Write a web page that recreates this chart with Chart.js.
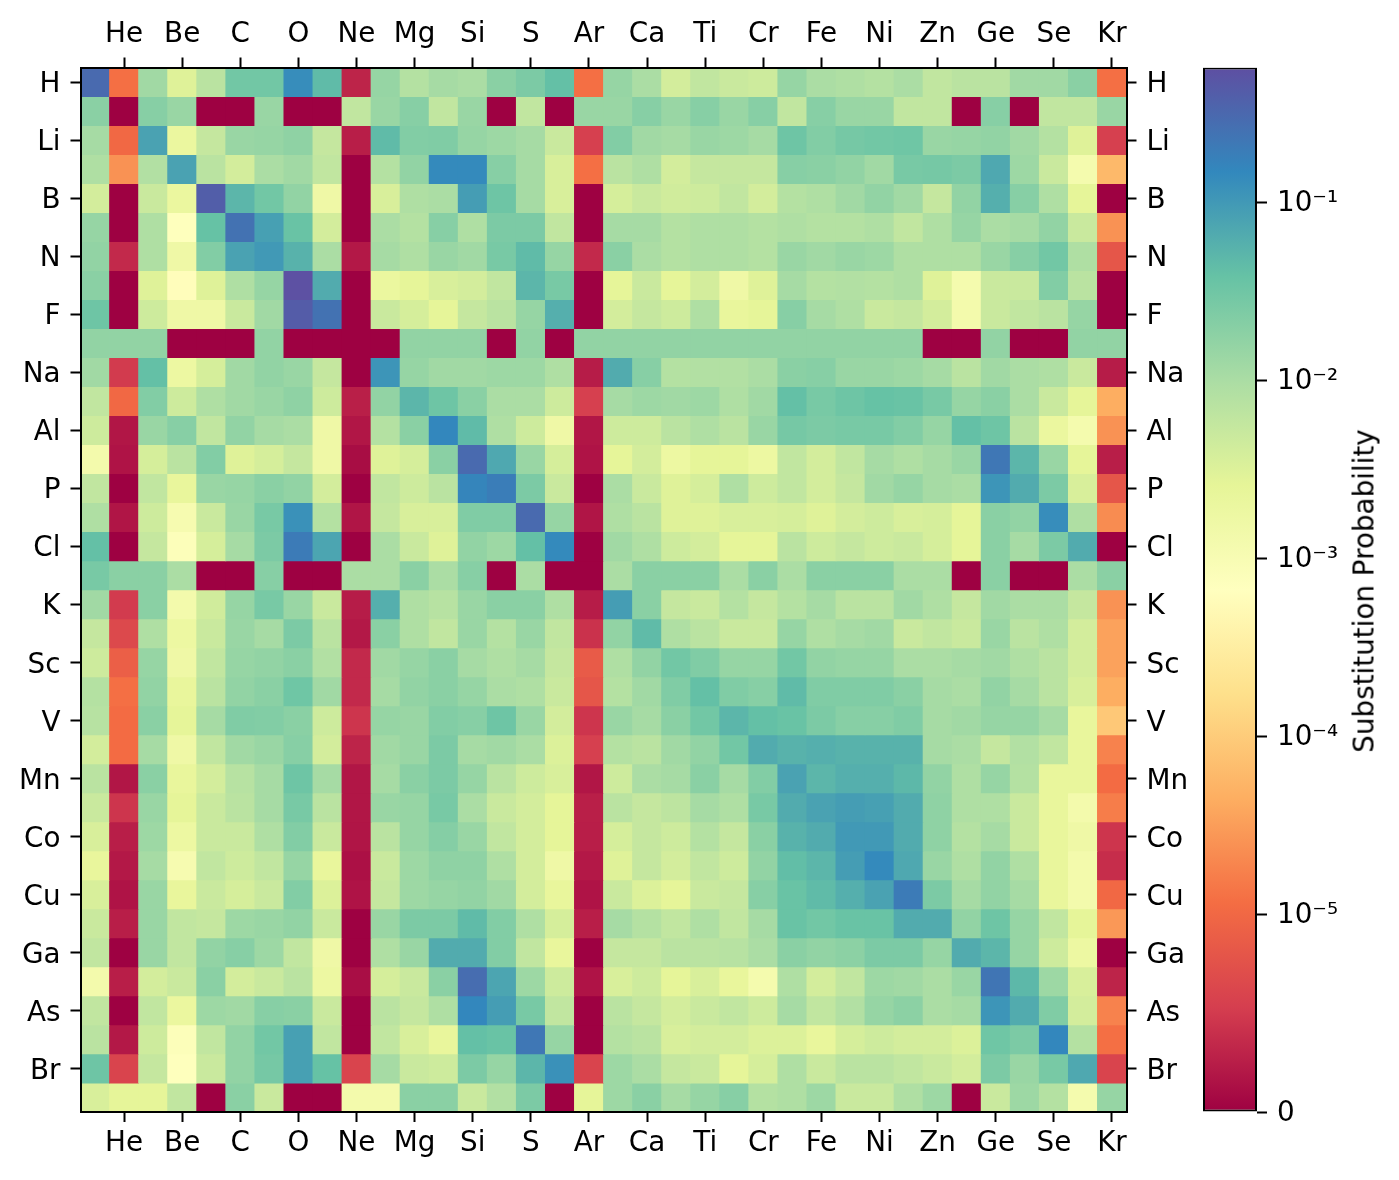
<!DOCTYPE html>
<html>
<head>
<meta charset="utf-8">
<title>Substitution Probability</title>
<script src="https://cdn.jsdelivr.net/npm/chart.js@4.4.1/dist/chart.umd.min.js"></script>
<style>
    body { margin: 0; background: #fff; }
    #wrap { position: relative; width: 1399px; height: 1180px; overflow: hidden; }
    #heatmap { position: absolute; left: 0; top: 0; }
    #colorbar { position: absolute; left: 1190px; top: 0; }
    #cbarLabel {
        position: absolute; left: 1364px; top: 591px;
        transform: translate(-50%, -50%) rotate(-90deg);
        font: 27.8px 'DejaVu Sans'; color: #000; white-space: nowrap;
    }
</style>
</head>
<body>
<div id="wrap">
    <canvas id="heatmap" width="1200" height="1180"></canvas>
    <canvas id="colorbar" width="209" height="1180"></canvas>
    <div id="cbarLabel">Substitution Probability</div>
</div>
<script>
// elements H..Kr, used for both axes
const elements = ['H', 'He', 'Li', 'Be', 'B', 'C', 'N', 'O', 'F', 'Ne', 'Na', 'Mg', 'Al', 'Si', 'P', 'S', 'Cl', 'Ar',
    'K', 'Ca', 'Sc', 'Ti', 'V', 'Cr', 'Mn', 'Fe', 'Co', 'Ni', 'Cu', 'Zn', 'Ga', 'Ge', 'As', 'Se', 'Br', 'Kr'];

// substitution probability, one array per row (row element -> column element)
const rowH  = [0.3, 1.2e-5, 0.012, 0.003, 0.007, 0.03, 0.03, 0.13, 0.045, 3e-6, 0.015, 0.008, 0.011, 0.01, 0.019, 0.025, 0.04, 1.2e-5, 0.015, 0.01, 0.004, 0.006, 0.005, 0.0045, 0.015, 0.01, 0.009, 0.008, 0.01, 0.006, 0.007, 0.007, 0.012, 0.012, 0.019, 1.2e-5];
const rowHe = [0.019, 0, 0.02, 0.014, 0, 0, 0.014, 0, 0, 0.006, 0.014, 0.02, 0.006, 0.014, 0, 0.006, 0, 0.014, 0.014, 0.02, 0.014, 0.02, 0.014, 0.02, 0.006, 0.02, 0.014, 0.014, 0.006, 0.006, 0, 0.02, 0, 0.006, 0.006, 0.014];
const rowLi = [0.011, 1e-5, 0.08, 0.002, 0.0055, 0.014, 0.015, 0.017, 0.0055, 2.5e-6, 0.045, 0.022, 0.023, 0.015, 0.013, 0.011, 0.005, 5.5e-6, 0.022, 0.012, 0.011, 0.014, 0.013, 0.011, 0.033, 0.022, 0.028, 0.03, 0.032, 0.014, 0.015, 0.016, 0.012, 0.008, 0.003, 5.5e-6];
const rowBe = [0.009, 2.5e-5, 0.0085, 0.08, 0.007, 0.004, 0.01, 0.012, 0.006, 0, 0.008, 0.016, 0.14, 0.14, 0.02, 0.011, 0.0035, 1.2e-5, 0.007, 0.009, 0.004, 0.0055, 0.0055, 0.0055, 0.02, 0.019, 0.016, 0.012, 0.027, 0.028, 0.025, 0.07, 0.013, 0.005, 0.0012, 6e-5];
const rowB  = [0.004, 0, 0.005, 0.002, 0.4, 0.05, 0.03, 0.016, 0.0016, 0, 0.0035, 0.009, 0.01, 0.09, 0.033, 0.011, 0.0035, 0, 0.0038, 0.005, 0.0042, 0.0045, 0.006, 0.004, 0.008, 0.009, 0.012, 0.016, 0.012, 0.0055, 0.016, 0.06, 0.02, 0.009, 0.0025, 0];
const rowC  = [0.015, 0, 0.009, 0.0007, 0.038, 0.25, 0.085, 0.036, 0.004, 0, 0.01, 0.008, 0.02, 0.009, 0.025, 0.025, 0.006, 0, 0.011, 0.011, 0.008, 0.009, 0.009, 0.008, 0.009, 0.008, 0.008, 0.009, 0.006, 0.009, 0.015, 0.01, 0.011, 0.016, 0.005, 2.5e-5];
const rowN  = [0.016, 3.5e-6, 0.009, 0.0016, 0.022, 0.08, 0.1, 0.055, 0.01, 2e-6, 0.011, 0.009, 0.014, 0.012, 0.027, 0.045, 0.015, 3.5e-6, 0.019, 0.01, 0.008, 0.009, 0.009, 0.008, 0.014, 0.012, 0.014, 0.013, 0.009, 0.009, 0.009, 0.014, 0.02, 0.03, 0.009, 8e-6];
const rowO  = [0.019, 0, 0.003, 0.0006, 0.003, 0.009, 0.015, 0.55, 0.065, 0, 0.002, 0.0025, 0.0035, 0.004, 0.006, 0.05, 0.027, 0, 0.0025, 0.005, 0.0025, 0.004, 0.0016, 0.003, 0.011, 0.008, 0.0085, 0.008, 0.009, 0.003, 0.0012, 0.005, 0.005, 0.022, 0.007, 0];
const rowF  = [0.033, 0, 0.0045, 0.0016, 0.0016, 0.005, 0.012, 0.42, 0.25, 0, 0.005, 0.0038, 0.0025, 0.0055, 0.007, 0.015, 0.06, 0, 0.004, 0.0055, 0.0045, 0.009, 0.0022, 0.0025, 0.02, 0.011, 0.009, 0.005, 0.0055, 0.004, 0.0013, 0.005, 0.006, 0.007, 0.015, 0];
const rowNe = [0.016, 0.016, 0.016, 0, 0, 0, 0.016, 0, 0, 0, 0, 0.016, 0.016, 0.016, 0, 0.016, 0, 0.016, 0.016, 0.016, 0.016, 0.016, 0.016, 0.016, 0.016, 0.016, 0.016, 0.016, 0.016, 0, 0, 0.016, 0, 0, 0.016, 0.016];
const rowNa = [0.012, 5e-6, 0.04, 0.0018, 0.0038, 0.012, 0.016, 0.014, 0.0055, 0, 0.11, 0.015, 0.012, 0.012, 0.013, 0.013, 0.009, 2.3e-6, 0.065, 0.02, 0.008, 0.0085, 0.0085, 0.01, 0.019, 0.02, 0.014, 0.014, 0.013, 0.011, 0.007, 0.012, 0.01, 0.009, 0.005, 2.3e-6];
const rowMg = [0.006, 1e-5, 0.022, 0.0045, 0.009, 0.012, 0.014, 0.017, 0.0045, 2.6e-6, 0.016, 0.05, 0.033, 0.019, 0.01, 0.01, 0.0045, 5.5e-6, 0.011, 0.013, 0.012, 0.013, 0.009, 0.012, 0.04, 0.027, 0.033, 0.038, 0.036, 0.027, 0.015, 0.019, 0.01, 0.005, 0.0025, 4.5e-5];
const rowAl = [0.0045, 1.8e-6, 0.014, 0.02, 0.006, 0.016, 0.011, 0.01, 0.0016, 1.8e-6, 0.008, 0.019, 0.15, 0.045, 0.009, 0.0045, 0.0016, 1.8e-6, 0.0045, 0.0045, 0.007, 0.009, 0.007, 0.014, 0.028, 0.025, 0.027, 0.027, 0.022, 0.015, 0.04, 0.033, 0.007, 0.002, 0.0012, 2.5e-5];
const rowSi = [0.0013, 1.6e-6, 0.0038, 0.007, 0.022, 0.003, 0.0038, 0.0055, 0.0016, 1e-6, 0.003, 0.0038, 0.019, 0.3, 0.07, 0.014, 0.0038, 1.6e-6, 0.0025, 0.004, 0.0018, 0.0025, 0.0025, 0.0018, 0.006, 0.004, 0.006, 0.011, 0.009, 0.011, 0.014, 0.22, 0.05, 0.014, 0.0025, 2.5e-6];
const rowP  = [0.006, 0, 0.006, 0.0022, 0.014, 0.015, 0.019, 0.016, 0.004, 0, 0.006, 0.0045, 0.007, 0.16, 0.19, 0.025, 0.005, 0, 0.01, 0.005, 0.003, 0.0038, 0.009, 0.0045, 0.006, 0.004, 0.0055, 0.012, 0.015, 0.011, 0.01, 0.11, 0.065, 0.025, 0.0035, 8e-6];
const rowS  = [0.009, 1.7e-6, 0.0045, 0.0011, 0.005, 0.014, 0.027, 0.12, 0.008, 1.7e-6, 0.0055, 0.0035, 0.0035, 0.023, 0.023, 0.3, 0.015, 1.7e-6, 0.009, 0.007, 0.003, 0.003, 0.0035, 0.0035, 0.0038, 0.003, 0.004, 0.0045, 0.0035, 0.0038, 0.0025, 0.019, 0.016, 0.13, 0.009, 2.2e-5];
const rowCl = [0.04, 0, 0.0055, 0.0008, 0.0038, 0.011, 0.025, 0.2, 0.075, 0, 0.01, 0.005, 0.003, 0.016, 0.013, 0.04, 0.14, 0, 0.012, 0.009, 0.0045, 0.004, 0.0025, 0.0025, 0.007, 0.0045, 0.0055, 0.0045, 0.005, 0.0038, 0.0025, 0.019, 0.011, 0.025, 0.065, 0];
const rowAr = [0.027, 0.019, 0.019, 0.01, 0, 0, 0.02, 0, 0, 0.01, 0.01, 0.019, 0.01, 0.02, 0, 0.01, 0, 0, 0.01, 0.019, 0.019, 0.019, 0.01, 0.019, 0.01, 0.019, 0.019, 0.019, 0.01, 0.01, 0, 0.019, 0, 0, 0.01, 0.019];
const rowK  = [0.012, 5e-6, 0.019, 0.0013, 0.0042, 0.015, 0.027, 0.014, 0.005, 2.3e-6, 0.06, 0.009, 0.0075, 0.014, 0.019, 0.019, 0.009, 2.3e-6, 0.09, 0.019, 0.0055, 0.005, 0.008, 0.0055, 0.008, 0.011, 0.007, 0.007, 0.012, 0.009, 0.0055, 0.012, 0.01, 0.01, 0.0055, 2.5e-5];
const rowCa = [0.0055, 6.5e-6, 0.009, 0.0018, 0.005, 0.014, 0.011, 0.025, 0.007, 2e-6, 0.019, 0.009, 0.006, 0.014, 0.008, 0.014, 0.006, 4.2e-6, 0.016, 0.045, 0.009, 0.007, 0.005, 0.005, 0.015, 0.009, 0.011, 0.012, 0.005, 0.006, 0.005, 0.014, 0.007, 0.009, 0.004, 3.5e-5];
const rowSc = [0.0045, 9e-6, 0.015, 0.0016, 0.006, 0.015, 0.016, 0.019, 0.0085, 3.5e-6, 0.012, 0.015, 0.019, 0.011, 0.009, 0.011, 0.0055, 8.5e-6, 0.009, 0.016, 0.03, 0.023, 0.015, 0.015, 0.03, 0.016, 0.015, 0.015, 0.01, 0.01, 0.011, 0.012, 0.009, 0.007, 0.004, 3.5e-5];
const rowTi = [0.008, 1.2e-5, 0.016, 0.0022, 0.007, 0.016, 0.019, 0.032, 0.012, 3.5e-6, 0.011, 0.016, 0.019, 0.015, 0.01, 0.009, 0.005, 8e-6, 0.008, 0.012, 0.023, 0.04, 0.023, 0.02, 0.045, 0.023, 0.023, 0.023, 0.019, 0.011, 0.01, 0.016, 0.011, 0.007, 0.0035, 4.5e-5];
const rowV  = [0.0075, 1.1e-5, 0.019, 0.0025, 0.011, 0.023, 0.022, 0.019, 0.0045, 4.5e-6, 0.015, 0.014, 0.022, 0.02, 0.033, 0.014, 0.004, 4.5e-6, 0.014, 0.011, 0.019, 0.03, 0.05, 0.04, 0.036, 0.025, 0.02, 0.02, 0.023, 0.011, 0.012, 0.015, 0.015, 0.011, 0.0022, 9e-5];
const rowCr = [0.004, 1.1e-5, 0.011, 0.0016, 0.006, 0.012, 0.014, 0.02, 0.004, 3e-6, 0.012, 0.014, 0.025, 0.011, 0.012, 0.01, 0.0032, 5.5e-6, 0.008, 0.007, 0.012, 0.016, 0.03, 0.065, 0.055, 0.06, 0.055, 0.055, 0.055, 0.011, 0.01, 0.0055, 0.0085, 0.006, 0.0022, 1.8e-5];
const rowMn = [0.007, 1.8e-6, 0.019, 0.0022, 0.004, 0.0075, 0.011, 0.033, 0.011, 1.8e-6, 0.011, 0.019, 0.025, 0.015, 0.007, 0.0045, 0.0035, 1.8e-6, 0.0045, 0.01, 0.011, 0.019, 0.011, 0.022, 0.08, 0.05, 0.06, 0.06, 0.048, 0.016, 0.009, 0.015, 0.008, 0.0022, 0.0022, 1.1e-5];
const rowFe = [0.005, 4.5e-6, 0.014, 0.0025, 0.005, 0.007, 0.011, 0.027, 0.007, 1.8e-6, 0.014, 0.015, 0.027, 0.01, 0.005, 0.004, 0.0025, 2.6e-6, 0.007, 0.0055, 0.0065, 0.011, 0.009, 0.027, 0.065, 0.08, 0.09, 0.085, 0.065, 0.017, 0.009, 0.009, 0.005, 0.0022, 0.0013, 1.6e-5];
const rowCo = [0.0035, 2.5e-6, 0.013, 0.0018, 0.005, 0.005, 0.009, 0.022, 0.005, 1.7e-6, 0.007, 0.015, 0.021, 0.014, 0.006, 0.004, 0.0025, 2.5e-6, 0.0038, 0.0055, 0.0045, 0.008, 0.0055, 0.019, 0.055, 0.065, 0.1, 0.1, 0.065, 0.017, 0.008, 0.011, 0.005, 0.0022, 0.0016, 4.5e-6];
const rowNi = [0.0022, 2e-6, 0.011, 0.0011, 0.006, 0.0045, 0.006, 0.015, 0.0022, 1.3e-6, 0.005, 0.013, 0.017, 0.017, 0.009, 0.004, 0.0016, 2e-6, 0.003, 0.0055, 0.004, 0.006, 0.0045, 0.016, 0.042, 0.05, 0.09, 0.14, 0.07, 0.014, 0.009, 0.016, 0.009, 0.0022, 0.0013, 3.8e-6];
const rowCu = [0.0035, 1.6e-6, 0.014, 0.0022, 0.005, 0.0038, 0.005, 0.022, 0.0032, 1.6e-6, 0.0055, 0.013, 0.015, 0.016, 0.012, 0.004, 0.0022, 1.6e-6, 0.005, 0.0032, 0.0025, 0.005, 0.0055, 0.02, 0.036, 0.045, 0.06, 0.08, 0.2, 0.025, 0.011, 0.016, 0.011, 0.0022, 0.0013, 1e-5];
const rowZn = [0.005, 2.5e-6, 0.014, 0.006, 0.0055, 0.013, 0.014, 0.016, 0.005, 0, 0.014, 0.025, 0.025, 0.045, 0.022, 0.009, 0.0038, 2.5e-6, 0.011, 0.008, 0.006, 0.009, 0.006, 0.011, 0.036, 0.03, 0.036, 0.036, 0.065, 0.065, 0.016, 0.033, 0.015, 0.006, 0.0025, 2.8e-5];
const rowGa = [0.006, 0, 0.014, 0.006, 0.016, 0.02, 0.013, 0.006, 0.0016, 0, 0.009, 0.014, 0.065, 0.065, 0.022, 0.006, 0.0022, 0, 0.0055, 0.0055, 0.007, 0.007, 0.0075, 0.01, 0.019, 0.016, 0.018, 0.025, 0.025, 0.015, 0.065, 0.05, 0.015, 0.0045, 0.0018, 0];
const rowGe = [0.0013, 2.5e-6, 0.004, 0.005, 0.019, 0.004, 0.005, 0.007, 0.0018, 1.1e-6, 0.0038, 0.005, 0.019, 0.28, 0.075, 0.013, 0.0045, 1.6e-6, 0.0035, 0.0045, 0.0025, 0.0035, 0.0022, 0.0012, 0.009, 0.004, 0.006, 0.013, 0.012, 0.01, 0.014, 0.23, 0.048, 0.013, 0.0035, 3e-6];
const rowAs = [0.006, 0, 0.006, 0.002, 0.013, 0.012, 0.02, 0.019, 0.005, 0, 0.007, 0.0055, 0.009, 0.15, 0.09, 0.027, 0.006, 0, 0.007, 0.0055, 0.004, 0.005, 0.006, 0.0045, 0.011, 0.006, 0.0085, 0.015, 0.018, 0.01, 0.011, 0.11, 0.065, 0.023, 0.004, 1.8e-5];
const rowSe = [0.007, 2e-6, 0.0045, 0.0008, 0.006, 0.016, 0.03, 0.085, 0.006, 0, 0.006, 0.0035, 0.0022, 0.04, 0.036, 0.22, 0.015, 0, 0.008, 0.007, 0.0035, 0.004, 0.004, 0.0032, 0.0032, 0.0022, 0.0038, 0.0045, 0.004, 0.004, 0.0032, 0.032, 0.025, 0.15, 0.008, 1.2e-5];
const rowBr = [0.033, 6e-6, 0.0055, 0.0007, 0.005, 0.016, 0.028, 0.085, 0.038, 6e-6, 0.011, 0.005, 0.0045, 0.025, 0.015, 0.05, 0.12, 6e-6, 0.013, 0.01, 0.0055, 0.005, 0.0025, 0.0038, 0.009, 0.005, 0.007, 0.007, 0.006, 0.005, 0.004, 0.025, 0.014, 0.027, 0.07, 6e-6];
const rowKr = [0.0035, 0.0025, 0.0025, 0.006, 0, 0.019, 0.005, 0, 0, 0.0013, 0.0013, 0.019, 0.019, 0.005, 0.0085, 0.025, 0, 0.0025, 0.013, 0.019, 0.011, 0.015, 0.02, 0.008, 0.009, 0.013, 0.005, 0.005, 0.009, 0.013, 0, 0.005, 0.013, 0.008, 0.0012, 0.015];

const rows = [rowH, rowHe, rowLi, rowBe, rowB, rowC, rowN, rowO, rowF, rowNe, rowNa, rowMg, rowAl, rowSi, rowP, rowS, rowCl, rowAr,
    rowK, rowCa, rowSc, rowTi, rowV, rowCr, rowMn, rowFe, rowCo, rowNi, rowCu, rowZn, rowGa, rowGe, rowAs, rowSe, rowBr, rowKr];

// colorbar ticks
const cbarTickValues = [0, 1e-5, 1e-4, 1e-3, 1e-2, 1e-1];
const cbarTickLabels = ['0', '10\u207B\u2075', '10\u207B\u2074', '10\u207B\u00B3', '10\u207B\u00B2', '10\u207B\u00B9'];

// symlog colour scale, linear below 1e-5
const linthresh = 1e-5;
const vmax = 0.57;
const linscaleAdj = 1 / (1 - 1 / 10);

const spectral = [[158, 1, 66], [213, 62, 79], [244, 109, 67], [253, 174, 97], [254, 224, 139], [255, 255, 191],
    [230, 245, 152], [171, 221, 164], [102, 194, 165], [50, 136, 189], [94, 79, 162]];

function symlog(v) {
    if (v <= linthresh) return v / linthresh * linscaleAdj;
    return linscaleAdj + Math.log10(v / linthresh);
}
const tMax = symlog(vmax);

function colorFor(v) {
    const n = Math.min(1, Math.max(0, symlog(v) / tMax));
    const x = n * 10;
    const i = Math.min(9, Math.floor(x));
    const f = x - i;
    const a = spectral[i], b = spectral[i + 1];
    const c = a.map((ch, k) => Math.round(ch + (b[k] - ch) * f));
    return `rgb(${c[0]}, ${c[1]}, ${c[2]})`;
}

document.addEventListener('DOMContentLoaded', function() {
    Chart.defaults.font.family = 'DejaVu Sans';
    Chart.defaults.font.size = 27.8;
    Chart.defaults.color = '#000';

    const rowTicks = elements.map((e, i) => i + 0.5).filter((v, i) => i % 2 === 0);

    function xAxis(position) {
        return {
            type: 'category',
            position: position,
            labels: elements,
            offset: true,
            stacked: true,
            afterFit: scale => { scale.height = position === 'top' ? 67.5 : 68; },
            afterBuildTicks: scale => { scale.ticks = scale.ticks.filter((t, i) => i % 2 === 1); },
            ticks: { callback: value => elements[value], autoSkip: false, maxRotation: 0, padding: position === 'top' ? 6 : 5 },
            grid: { display: true, offset: false, drawOnChartArea: false, tickLength: 10, tickWidth: 2, tickColor: '#000' },
            border: { display: true, color: '#000', width: 2, z: 1 }
        };
    }

    function yAxis(position) {
        return {
            type: 'linear',
            position: position,
            min: 0,
            max: 36,
            reverse: true,
            stacked: true,
            bounds: 'data',
            afterFit: scale => { scale.width = position === 'left' ? 80.5 : 73.5; },
            afterBuildTicks: scale => { scale.ticks = rowTicks.map(v => ({ value: v })); },
            ticks: { callback: value => elements[Math.round(value - 0.5)], autoSkip: false, padding: 10, labelOffset: 3 },
            grid: { display: true, drawOnChartArea: false, tickLength: 10, tickWidth: 2, tickColor: '#000' },
            border: { display: true, color: '#000', width: 2, z: 1 }
        };
    }

    const datasets = rows.map((row, r) => ({
        label: elements[r],
        data: row.map(() => 1),
        backgroundColor: row.map(colorFor),
        borderWidth: 0,
        categoryPercentage: 1,
        barPercentage: 1,
        inflateAmount: 0.4,
        xAxisID: 'x',
        yAxisID: 'y'
    }));

    new Chart(document.getElementById('heatmap'), {
        type: 'bar',
        data: { labels: elements, datasets: datasets },
        options: {
            responsive: false,
            animation: false,
            layout: { padding: 0 },
            plugins: { legend: { display: false }, tooltip: { enabled: false } },
            scales: {
                x: xAxis('bottom'),
                x2: xAxis('top'),
                y: yAxis('left'),
                y2: yAxis('right')
            }
        }
    });

    function gradientFill(context) {
        const area = context.chart.chartArea;
        if (!area) return 'rgb(255, 255, 191)';
        const g = context.chart.ctx.createLinearGradient(0, area.bottom, 0, area.top);
        spectral.forEach((c, i) => g.addColorStop(i / 10, `rgb(${c[0]}, ${c[1]}, ${c[2]})`));
        return g;
    }

    new Chart(document.getElementById('colorbar'), {
        type: 'bar',
        data: {
            labels: [''],
            datasets: [{
                data: [tMax],
                backgroundColor: gradientFill,
                borderColor: '#000',
                borderWidth: 2,
                borderSkipped: false,
                categoryPercentage: 1,
                barPercentage: 1,
                inflateAmount: 0
            }]
        },
        options: {
            responsive: false,
            animation: false,
            layout: { padding: { left: 13, right: 0, top: 67.5, bottom: 68 } },
            plugins: { legend: { display: false }, tooltip: { enabled: false } },
            scales: {
                x: { display: false },
                y: {
                    position: 'right',
                    min: 0,
                    max: tMax,
                    bounds: 'data',
                    afterFit: scale => { scale.width = 142; },
                    afterBuildTicks: scale => { scale.ticks = cbarTickValues.map(v => ({ value: symlog(v) })); },
                    ticks: { callback: (value, i) => cbarTickLabels[i], autoSkip: false, padding: 10, labelOffset: 2 },
                    grid: { display: true, drawOnChartArea: false, tickLength: 10, tickWidth: 2, tickColor: '#000' },
                    border: { display: false }
                }
            }
        }
    });
});
</script>
</body>
</html>
